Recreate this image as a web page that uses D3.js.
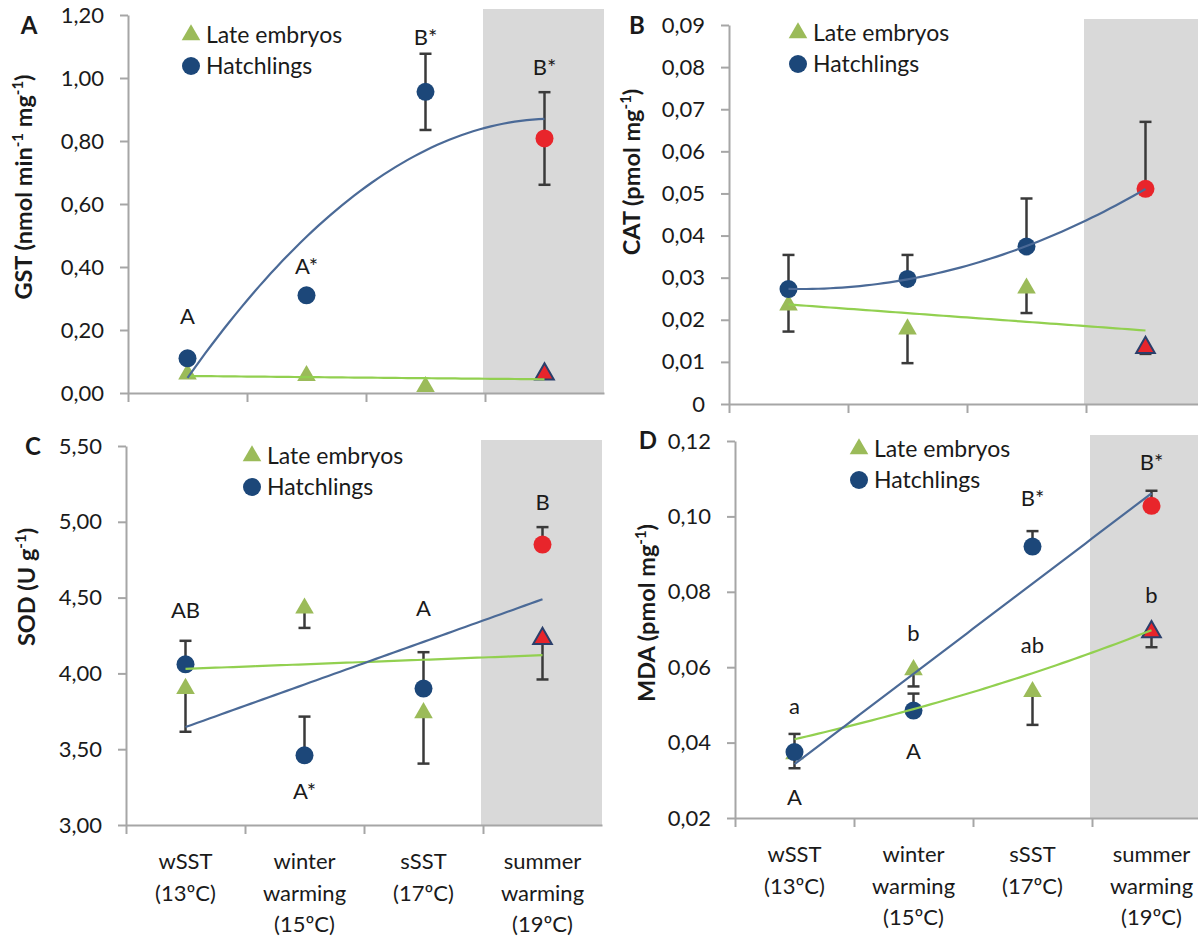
<!DOCTYPE html>
<html>
<head>
<meta charset="utf-8">
<script src="https://cdn.jsdelivr.net/npm/d3@7"></script>
<style>
  body { margin: 0; background: #fff; }
  text { font-family: Lato, "Open Sans", sans-serif; fill: #1a1a1a; }
</style>
</head>
<body>
<div id="viz"></div>
<script>
// categories (x axis), shared by all four panels
const categories = [["wSST", "(13ºC)"], ["winter", "warming", "(15ºC)"], ["sSST", "(17ºC)"], ["summer", "warming", "(19ºC)"]];

// A - GST
const gstHatch = [0.11, 0.31, 0.956, 0.808];
const gstHatchErr = [0, 0, 0.121, 0.147];
const gstEmb = [0.06, 0.055, 0.02, 0.06];
const gstEmbErr = [0, 0, 0.006, 0];
const gstTicks = [0, 0.2, 0.4, 0.6, 0.8, 1.0, 1.2];
const gstLabels = [[0, "A", 0.243], [1, "A*", 0.403], [2, "B*", 1.13], [3, "B*", 1.035]];

// B - CAT
const catHatch = [0.0273, 0.0297, 0.0374, 0.0511];
const catHatchErr = [0.0081, 0.0057, 0.0114, 0.0159];
const catEmb = [0.0235, 0.0178, 0.0275, 0.0134];
const catEmbErr = [0.0063, 0.0081, 0.0059, 0.0015];
const catTicks = [0, 0.01, 0.02, 0.03, 0.04, 0.05, 0.06, 0.07, 0.08, 0.09];
const catLabels = [];

// C - SOD
const sodHatch = [4.06, 3.46, 3.90, 4.85];
const sodHatchErr = [0.155, 0.255, 0.24, 0.115];
const sodEmb = [3.90, 4.43, 3.74, 4.23];
const sodEmbErr = [0.285, 0.13, 0.335, 0.27];
const sodTicks = [3.0, 3.5, 4.0, 4.5, 5.0, 5.5];
const sodLabels = [[0, "AB", 4.418], [1, "A*", 3.22], [2, "A", 4.43], [3, "B", 5.13]];

// D - MDA
const mdaHatch = [0.0375, 0.0485, 0.092, 0.1028];
const mdaHatchErr = [0.0048, 0.0045, 0.0041, 0.004];
const mdaEmb = [0.037, 0.0593, 0.0535, 0.0694];
const mdaEmbErr = [0.0038, 0.0044, 0.0088, 0.0041];
const mdaTicks = [0.02, 0.04, 0.06, 0.08, 0.10, 0.12];
const mdaLabels = [[0, "a", 0.0495], [0, "A", 0.0254], [1, "b", 0.0691], [1, "A", 0.0376],
                   [2, "B*", 0.1048], [2, "ab", 0.0659], [3, "B*", 0.1144], [3, "b", 0.0791]];

const W = 1198, H = 938;
const navy = "#1c4779", green = "#9bbb59", red = "#e8252b";

const svg = d3.select("#viz").append("svg")
    .attr("width", W).attr("height", H);

// least squares trend (x = 1..4)
function trend(type, ys) {
  const xs = ys.map((d, i) => i + 1);
  const mx = d3.mean(xs);
  const t = xs.map(x => x - mx);
  const vals = type === "exp" ? ys.map(Math.log) : ys;
  const a0 = d3.mean(vals);
  const a1 = d3.sum(vals.map((v, i) => v * t[i])) / d3.sum(t.map(d => d * d));
  let a2 = 0, mt2 = d3.mean(t.map(d => d * d));
  if (type === "poly2") {
    const p2 = t.map(d => d * d - mt2);
    a2 = d3.sum(vals.map((v, i) => v * p2[i])) / d3.sum(p2.map(d => d * d));
  }
  return x => {
    const tt = x - mx;
    const v = a0 + a1 * tt + a2 * (tt * tt - mt2);
    return type === "exp" ? Math.exp(v) : v;
  };
}

function drawPanel(p) {
  const g = svg.append("g");
  const x = d3.scaleBand().domain(d3.range(4)).range([p.x0, p.x0 + 476]);
  const y = d3.scaleLinear().domain(p.domain).range([p.yb, p.yt]);
  const cx = i => x(i) + x.bandwidth() / 2;

  // shaded summer warming band
  g.append("rect")
    .attr("x", x(3) - 2).attr("y", p.yt - 6)
    .attr("width", x.bandwidth() + 2).attr("height", p.yb - p.yt + 6)
    .attr("fill", "#d9d9d9");

  // y axis
  const ya = g.append("g")
    .attr("transform", `translate(${p.x0},0)`)
    .call(d3.axisLeft(y).tickValues(p.ticks).tickSize(8).tickSizeOuter(0).tickPadding(16)
      .tickFormat(p.fmt));
  ya.selectAll("path, line").attr("stroke", "#a6a6a6").attr("stroke-width", 2);
  ya.selectAll("text").attr("font-size", 22).attr("fill", "#1a1a1a")
    .style("font-family", "Lato, sans-serif");

  // x axis, ticks at category boundaries
  const xb = d3.scaleLinear().domain([0, 4]).range([p.x0, p.x0 + 476]);
  const xa = g.append("g")
    .attr("transform", `translate(0,${p.yb})`)
    .call(d3.axisBottom(xb).tickValues([0, 1, 2, 3]).tickSize(9).tickSizeOuter(0).tickFormat(""));
  xa.selectAll("path, line").attr("stroke", "#a6a6a6").attr("stroke-width", 2);

  if (p.showCats) {
    categories.forEach((lines, i) => {
      const t = g.append("text").attr("x", cx(i)).attr("y", p.yb + 44)
        .attr("text-anchor", "middle").attr("font-size", 22);
      lines.forEach((l, k) => t.append("tspan").attr("x", cx(i)).attr("dy", k ? 31.5 : 0).text(l));
    });
  }

  // error bars (embryos go down, hatchlings go up)
  const bar = (i, v0, v1) => {
    g.append("line").attr("x1", cx(i)).attr("x2", cx(i)).attr("y1", y(v0)).attr("y2", y(v1))
      .attr("stroke", "#3a3a3a").attr("stroke-width", 2.5);
    g.append("line").attr("x1", cx(i) - 6).attr("x2", cx(i) + 6).attr("y1", y(v1)).attr("y2", y(v1))
      .attr("stroke", "#3a3a3a").attr("stroke-width", 2.5);
  };
  p.emb.forEach((v, i) => { if (p.embErr[i] > 0) bar(i, v, v - p.embErr[i]); });
  p.hatch.forEach((v, i) => {
    if (p.hatchErr[i] > 0) {
      bar(i, v, v + p.hatchErr[i]);
      if (p.hatchBoth) bar(i, v, v - p.hatchErr[i]);
    }
  });

  // markers
  const tri = d3.symbol().type(d3.symbolTriangle).size(150);
  g.selectAll("path.emb").data(p.emb).enter().append("path")
    .attr("class", "emb")
    .attr("d", tri)
    .attr("transform", (d, i) => `translate(${cx(i)},${y(d)})`)
    .attr("fill", (d, i) => i === 3 ? red : green)
    .attr("stroke", (d, i) => i === 3 ? "#2b3f6b" : "none")
    .attr("stroke-width", 2);
  g.selectAll("circle.hatch").data(p.hatch).enter().append("circle")
    .attr("class", "hatch")
    .attr("cx", (d, i) => cx(i)).attr("cy", d => y(d)).attr("r", 9)
    .attr("fill", (d, i) => i === 3 ? red : navy);

  // trend lines
  const xi = d3.scaleLinear().domain([1, 4]).range([cx(0), cx(3)]);
  const line = f => d3.line().x(d => xi(d)).y(d => y(f(d)))(d3.range(1, 4.001, 0.05));
  g.append("path").attr("d", line(trend(p.embFit, p.emb)))
    .attr("fill", "none").attr("stroke", "#92d050").attr("stroke-width", 2.2);
  g.append("path").attr("d", line(trend(p.hatchFit, p.hatch)))
    .attr("fill", "none").attr("stroke", "#4b6a97").attr("stroke-width", 2.2);

  // significance letters
  p.labels.forEach(([i, t, v]) => {
    g.append("text").attr("x", cx(i)).attr("y", y(v)).attr("dy", "0.35em")
      .attr("text-anchor", "middle").attr("font-size", 22).text(t);
  });

  // legend
  g.append("path").attr("d", tri)
    .attr("transform", `translate(${p.leg[0]},${p.leg[1]})`).attr("fill", green);
  g.append("circle").attr("cx", p.leg[0]).attr("cy", p.leg[1] + 31).attr("r", 9).attr("fill", navy);
  g.append("text").attr("x", p.leg[0] + 15).attr("y", p.leg[1]).attr("dy", "0.35em")
    .attr("font-size", 23).text("Late embryos");
  g.append("text").attr("x", p.leg[0] + 15).attr("y", p.leg[1] + 31).attr("dy", "0.35em")
    .attr("font-size", 23).text("Hatchlings");

  // panel letter
  g.append("text").attr("x", p.letterPos[0]).attr("y", p.letterPos[1]).attr("dy", "0.35em")
    .attr("text-anchor", "middle").attr("font-size", 24).attr("font-weight", "bold").text(p.letter);

  // y title
  const yt = g.append("text")
    .attr("transform", `translate(${p.titlePos[0]},${p.titlePos[1]}) rotate(-90)`)
    .attr("text-anchor", "middle").attr("dy", "0.35em")
    .attr("font-size", 23.5).attr("font-weight", "bold");
  p.title.forEach(([s, sup]) => {
    yt.append("tspan").attr("baseline-shift", sup ? "super" : null)
      .attr("font-size", sup ? 15 : null).text(s);
  });
}

const comma2 = d => d3.format(".2f")(d).replace(".", ",");

drawPanel({
  letter: "A", letterPos: [29, 26], x0: 128, yb: 393, yt: 15, domain: [0, 1.2],
  ticks: gstTicks, fmt: comma2, hatch: gstHatch, hatchErr: gstHatchErr, hatchBoth: true,
  emb: gstEmb, embErr: gstEmbErr, hatchFit: "poly2", embFit: "linear",
  labels: gstLabels, leg: [191, 35], titlePos: [24, 187],
  title: [["GST (nmol min"], ["-1", true], [" mg"], ["-1", true], [")"]], showCats: false
});
drawPanel({
  letter: "B", letterPos: [637, 26], x0: 729, yb: 404, yt: 25, domain: [0, 0.09],
  ticks: catTicks, fmt: d => d === 0 ? "0" : comma2(d), hatch: catHatch, hatchErr: catHatchErr,
  emb: catEmb, embErr: catEmbErr, hatchFit: "poly2", embFit: "linear",
  labels: catLabels, leg: [798, 33], titlePos: [632, 172],
  title: [["CAT (pmol mg"], ["-1", true], [")"]], showCats: false
});
drawPanel({
  letter: "C", letterPos: [33, 447], x0: 126, yb: 825, yt: 446, domain: [3, 5.5],
  ticks: sodTicks, fmt: comma2, hatch: sodHatch, hatchErr: sodHatchErr,
  emb: sodEmb, embErr: sodEmbErr, hatchFit: "linear", embFit: "linear",
  labels: sodLabels, leg: [252, 456], titlePos: [27, 587],
  title: [["SOD (U g"], ["-1", true], [")"]], showCats: true
});
drawPanel({
  letter: "D", letterPos: [648, 441], x0: 735, yb: 818, yt: 441, domain: [0.02, 0.12],
  ticks: mdaTicks, fmt: comma2, hatch: mdaHatch, hatchErr: mdaHatchErr,
  emb: mdaEmb, embErr: mdaEmbErr, hatchFit: "linear", embFit: "exp",
  labels: mdaLabels, leg: [859, 449], titlePos: [647, 613],
  title: [["MDA (pmol mg"], ["-1", true], [")"]], showCats: true
});
</script>
</body>
</html>
